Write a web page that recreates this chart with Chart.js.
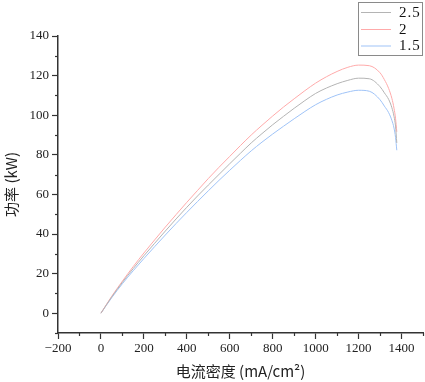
<!DOCTYPE html>
<html>
<head>
<meta charset="utf-8">
<script src="https://cdn.jsdelivr.net/npm/chart.js@4/dist/chart.umd.min.js"></script>
<style>
  html, body { margin: 0; padding: 0; background: #fff; }
  #wrap { width: 425px; height: 382px; }
</style>
</head>
<body>
<div id="wrap"><canvas id="powerChart" width="425" height="382"></canvas></div>
<script>
// current density (mA/cm2) and power (kW)
const current = [0, 50, 100, 150, 200, 250, 300, 350, 400, 450, 500, 550, 600, 650, 700, 750, 800, 850, 900, 950, 1000, 1050, 1100, 1150, 1200, 1250, 1300, 1320, 1340, 1355, 1365, 1372, 1378];
const power25 = [0, 8.2, 15.6, 22.5, 29.0, 35.3, 41.5, 47.6, 53.5, 59.2, 64.7, 70.1, 75.5, 80.8, 86.0, 90.7, 95.2, 99.4, 103.5, 107.4, 111.0, 113.7, 115.9, 117.6, 118.7, 118.4, 114.4, 111.3, 108.0, 103.8, 99.4, 94.5, 86.0];
const power20 = [0, 8.5, 16.2, 23.5, 30.4, 37.0, 43.5, 49.8, 56.0, 62.0, 68.0, 73.7, 79.2, 84.7, 90.0, 94.9, 99.6, 104.1, 108.3, 112.4, 116.2, 119.4, 122.1, 124.2, 125.3, 125.0, 121.4, 118.0, 113.5, 108.5, 103.5, 98.5, 91.6];
const power15 = [0, 7.8, 14.9, 21.4, 27.6, 33.6, 39.5, 45.3, 50.9, 56.4, 61.8, 67.1, 72.2, 77.2, 82.0, 86.4, 90.5, 94.4, 98.2, 101.9, 105.3, 108.0, 110.2, 111.7, 112.6, 112.1, 107.8, 104.6, 101.3, 97.4, 93.5, 88.8, 82.3];

const seriesLabels = ['2.5', '2', '1.5'];
const seriesColors = ['#b4b4b4', '#ffaaaa', '#9fc3f7'];

const xTicks = [-200, 0, 200, 400, 600, 800, 1000, 1200, 1400];
const yTicks = [0, 20, 40, 60, 80, 100, 120, 140];

const axisColor = '#333333';
const serif = '"Liberation Serif", "DejaVu Serif", serif';
const cjk = '"Noto Sans CJK SC", "Liberation Serif", serif';

function toPoints(ys) {
    return current.map((x, i) => ({ x: x, y: ys[i] }));
}

const allSeries = [power25, power20, power15];

// minor ticks + boxed legend drawn after the chart
const extrasPlugin = {
    id: 'extras',
    afterDraw(chart) {
        const ctx = chart.ctx;
        const xs = chart.scales.x;
        const ys = chart.scales.y;
        ctx.save();
        ctx.strokeStyle = axisColor;
        ctx.lineWidth = 1.2;
        for (let i = 0; i < xTicks.length; i++) {
            const v = xTicks[i] + 100;
            if (v > xs.max) continue;
            const px = Math.round(xs.getPixelForValue(v)) + 0.5;
            ctx.beginPath();
            ctx.moveTo(px, ys.bottom);
            ctx.lineTo(px, ys.bottom + 3);
            ctx.stroke();
        }
        for (let i = 0; i < yTicks.length; i++) {
            const v = yTicks[i] - 10;
            if (v < ys.min) continue;
            const py = Math.round(ys.getPixelForValue(v)) + 0.5;
            ctx.beginPath();
            ctx.moveTo(xs.left, py);
            ctx.lineTo(xs.left - 3, py);
            ctx.stroke();
        }

        // legend box
        const bx = 358.5, by = 2.5, bw = 64, bh = 53;
        ctx.fillStyle = '#ffffff';
        ctx.fillRect(bx, by, bw, bh);
        ctx.strokeStyle = '#8a8a8a';
        ctx.lineWidth = 1;
        ctx.strokeRect(bx, by, bw, bh);
        ctx.font = '15px ' + serif;
        ctx.textBaseline = 'middle';
        ctx.textAlign = 'left';
        ctx.letterSpacing = '1px';
        const rows = [12, 29, 45.5];
        chart.data.datasets.forEach((ds, i) => {
            ctx.strokeStyle = ds.borderColor;
            ctx.lineWidth = 1;
            ctx.beginPath();
            ctx.moveTo(361, rows[i] + 0.5);
            ctx.lineTo(391, rows[i] + 0.5);
            ctx.stroke();
            ctx.fillStyle = '#111';
            ctx.fillText(ds.label, 399, rows[i] + 1);
        });
        ctx.restore();
    }
};

const chart = new Chart(document.getElementById('powerChart').getContext('2d'), {
    type: 'line',
    data: {
        datasets: seriesLabels.map((label, i) => ({
            label: label,
            data: toPoints(allSeries[i]),
            borderColor: seriesColors[i],
            backgroundColor: seriesColors[i],
            borderWidth: 1,
            pointRadius: 0,
            fill: false,
            cubicInterpolationMode: 'monotone'
        }))
    },
    options: {
        responsive: false,
        animation: false,
        layout: { padding: { top: 36, right: 2, left: 0, bottom: 0 } },
        plugins: {
            legend: { display: false },
            tooltip: { enabled: false }
        },
        scales: {
            x: {
                type: 'linear',
                min: -200,
                max: 1500,
                afterBuildTicks: function(scale) {
                    scale.ticks = xTicks.map(v => ({ value: v }));
                },
                afterFit: function(scale) {
                    scale.height = 49;
                },
                ticks: {
                    color: '#222',
                    font: { family: serif, size: 13 },
                    padding: 2,
                    maxRotation: 0,
                    callback: v => (v < 0 ? '\u2212' + Math.abs(v) : String(v))
                },
                grid: {
                    display: true,
                    drawOnChartArea: false,
                    drawTicks: true,
                    tickLength: 6,
                    tickColor: axisColor,
                    tickWidth: 1.2
                },
                border: { display: true, color: axisColor, width: 1.5 },
                title: {
                    display: true,
                    text: '电流密度 (mA/cm²)',
                    color: '#222',
                    font: { family: cjk, size: 15 },
                    padding: { top: 0, bottom: 2 }
                }
            },
            y: {
                type: 'linear',
                min: -10,
                max: 140,
                afterBuildTicks: function(scale) {
                    scale.ticks = yTicks.map(v => ({ value: v }));
                },
                afterFit: function(scale) {
                    scale.width = 58;
                },
                ticks: {
                    color: '#222',
                    font: { family: serif, size: 13 },
                    padding: 3
                },
                grid: {
                    display: true,
                    drawOnChartArea: false,
                    drawTicks: true,
                    tickLength: 6,
                    tickColor: axisColor,
                    tickWidth: 1.2
                },
                border: { display: true, color: axisColor, width: 1.5 },
                title: {
                    display: true,
                    text: '功率 (kW)',
                    color: '#222',
                    font: { family: cjk, size: 15 },
                    padding: { top: 2, bottom: 0 }
                }
            }
        }
    },
    plugins: [extrasPlugin]
});
</script>
</body>
</html>
